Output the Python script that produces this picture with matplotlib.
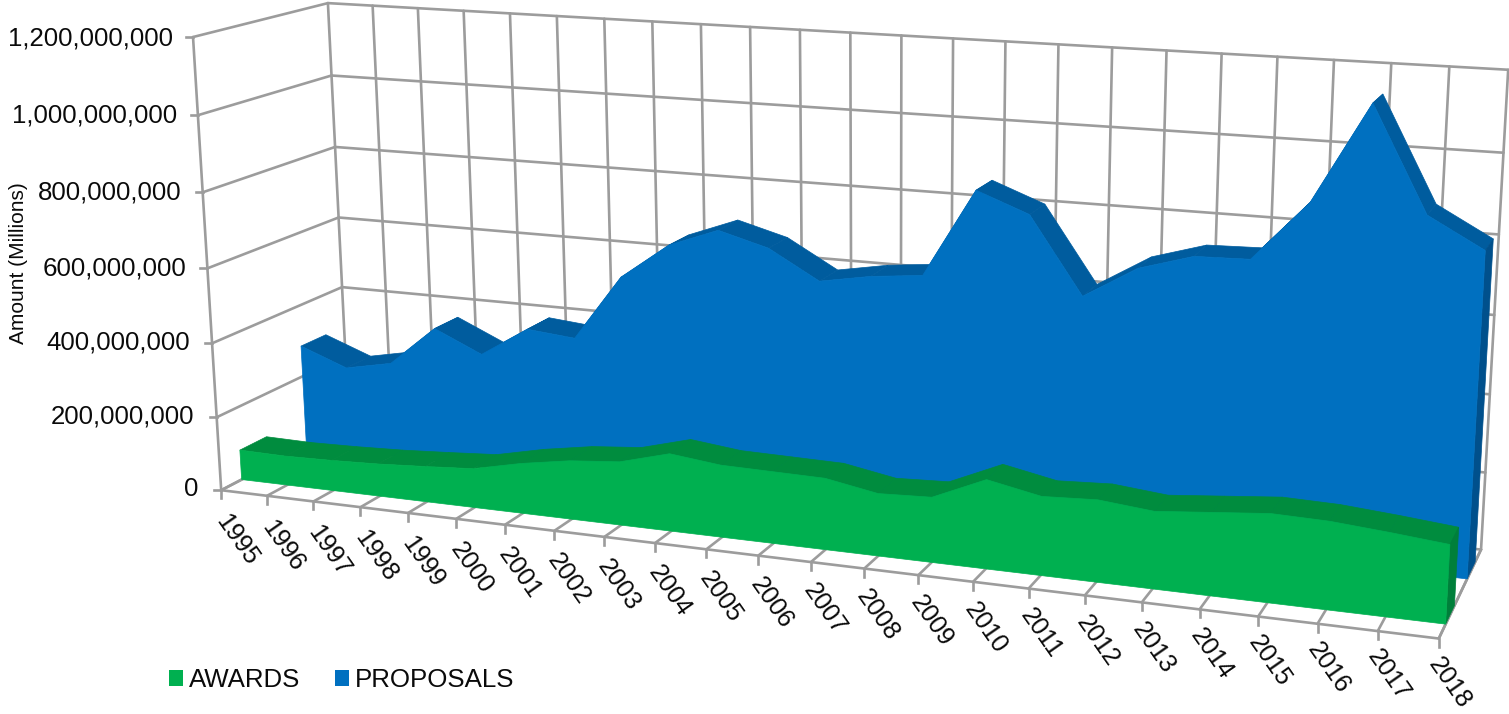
import numpy as np
import matplotlib
matplotlib.use("Agg")
import matplotlib.pyplot as plt
from matplotlib.patches import Patch, Polygon

years = list(range(1995, 2019))
awards = [.082, .080, .083, .088, .096, .105, .134, .156, .168, .204, .189, .187,
          .185, .161, .167, .227, .200, .207, .194, .207, .220, .217, .206, .193]
proposals = [.286, .237, .263, .373, .314, .396, .384, .561, .658, .708, .672, .597,
             .621, .635, .863, .812, .617, .699, .740, .744, .893, 1.141, .884, .810]
y_ticks = [0, 200, 400, 600, 800, 1000, 1200]
y_labels = ["0", "200,000,000", "400,000,000", "600,000,000", "800,000,000",
            "1,000,000,000", "1,200,000,000"]
series_names = ["AWARDS", "PROPOSALS"]

GREEN, GREEN_TOP, GREEN_SIDE = "#00B050", "#008C3E", "#007F3A"
BLUE, BLUE_TOP, BLUE_SIDE = "#0070C0", "#005C9E", "#00508C"
GRID = "#9C9C9C"
FONT = "Liberation Sans"
INK = "#0A0A0A"

# Perspective camera calibrated on the chart box corners (u=category, v=value, w=depth)
box = [((0, 0, 0), (222, 488)), ((1, 0, 0), (1439, 640)), ((0, 0, 1), (348, 426)),
       ((1, 0, 1), (1481, 548)), ((0, 1, 0), (192, 38)), ((0, 1, 1), (329, 2)),
       ((1, 1, 1), (1508, 70))]
A, b = [], []
for (u, v, w), (px, py) in box:
    A.append([u, v, w, 1, 0, 0, 0, 0, -px * u, -px * v, -px * w]); b.append(px)
    A.append([0, 0, 0, 0, u, v, w, 1, -py * u, -py * v, -py * w]); b.append(py)
cam = np.append(np.linalg.lstsq(np.array(A, float), np.array(b, float), rcond=None)[0], 1).reshape(3, 4)


def project(idx, value, depth):
    idx, value, depth = np.broadcast_arrays(np.asarray(idx, float), np.asarray(value, float), np.asarray(depth, float))
    pts = np.stack([idx / (len(years) - 1), value / 1.2, depth, np.ones(idx.shape)])
    q = cam @ pts.reshape(4, -1)
    return np.stack([q[0] / q[2], q[1] / q[2]], axis=1)


fig = plt.figure(figsize=(15.09, 7.14), dpi=100)
ax = fig.add_axes([0, 0, 1, 1])
ax.set_xlim(0, 1509)
ax.set_ylim(714, 0)
ax.axis("off")
n = len(years)
ix = np.arange(n)
LW = 1.9


def seg(i0, v0, d0, i1, v1, d1, z=1):
    p = project([i0, i1], [v0, v1], [d0, d1])
    ax.plot(p[:, 0], p[:, 1], color=GRID, lw=LW, zorder=z, solid_capstyle="round")


top = y_ticks[-1] / 1000
for i in ix:
    seg(i, 0, 1, i, top, 1)
    seg(i, 0, 0, i, 0, 1)
    p = project(i, 0, 0)[0]
    ax.plot([p[0], p[0]], [p[1], p[1] + 8], color=GRID, lw=LW, zorder=1)
    ax.text(p[0] - 5 * i / (n - 1), p[1] + 27 - 6 * i / (n - 1), str(years[i]), rotation=-55, rotation_mode="anchor",
            ha="left", va="center", fontsize=18.2, family=FONT, color=INK)
for t, lab in zip(y_ticks, y_labels):
    v = t / 1000
    seg(0, v, 0, 0, v, 1)
    seg(0, v, 1, n - 1, v, 1)
    p = project(0, v, 0)[0]
    frac = v / top
    ax.plot([p[0] - 7, p[0]], [p[1], p[1]], color=GRID, lw=LW, zorder=1)
    ax.text(p[0] - 23 + 3 * frac, p[1] - 1.5 + 2.5 * frac, lab, ha="right", va="center", fontsize=18.6, family=FONT, color=INK)
seg(0, 0, 0, 0, top, 0)
seg(0, 0, 0, n - 1, 0, 0)
seg(n - 1, 0, 0, n - 1, 0, 1)


def area(values, d0, d1, front, top_c, side, z):
    vals = np.array(values, float)
    # top strips
    for i in range(n - 1):
        q = project([i, i + 1, i + 1, i], [vals[i], vals[i + 1], vals[i + 1], vals[i]], [d0, d0, d1, d1])
        ax.add_patch(Polygon(q, closed=True, fc=top_c, ec=top_c, lw=0.5, zorder=z))
    # right end
    q = project([n - 1] * 4, [0, vals[-1], vals[-1], 0], [d0, d0, d1, d1])
    ax.add_patch(Polygon(q, closed=True, fc=side, ec=side, lw=0.5, zorder=z + 0.1))
    # front
    up = project(ix, vals, d0)
    lo = project(ix[::-1], 0 * vals, d0)
    ax.add_patch(Polygon(np.vstack([up, lo]), closed=True, fc=front, ec=front, lw=0.5, zorder=z + 0.2))


area(proposals, 0.65, 0.85, BLUE, BLUE_TOP, BLUE_SIDE, 3)
area(awards, 0.15, 0.35, GREEN, GREEN_TOP, GREEN_SIDE, 4)

ax.text(19, 263.5, "Amount (Millions)", rotation=90, ha="center", va="center", fontsize=15, family=FONT, color=INK)
ax.legend(handles=[Patch(fc=GREEN, label=series_names[0]), Patch(fc=BLUE, label=series_names[1])],
          ncol=2, frameon=False, loc="center left", bbox_to_anchor=(146 / 1509, 1 - 680 / 714),
          prop={"family": FONT, "size": 18.6}, handlelength=0.52, handleheight=0.62, handletextpad=0.25,
          columnspacing=1.35, labelcolor=INK)
fig.savefig("out.png", dpi=100)
